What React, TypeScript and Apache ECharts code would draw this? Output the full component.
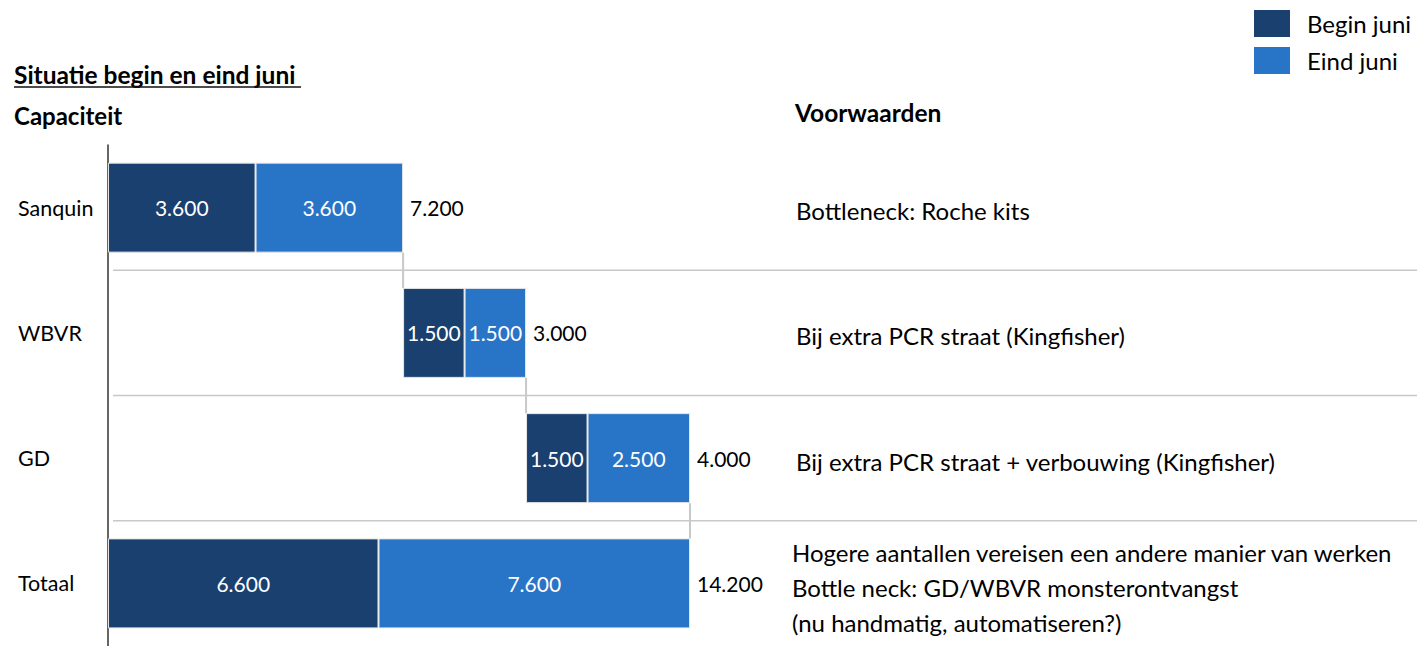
import React, { useEffect, useRef } from "react";
import * as echarts from "echarts";

const categories = ["Sanquin", "WBVR", "GD", "Totaal"];
const beginJuni = [3600, 1500, 1500, 6600];
const eindJuni = [3600, 1500, 2500, 7600];
const offsets = [0, 7200, 10200, 0];
const conditions = [
  ["Bottleneck: Roche kits"],
  ["Bij extra PCR straat (Kingfisher)"],
  ["Bij extra PCR straat + verbouwing (Kingfisher)"],
  [
    "Hogere aantallen vereisen een andere manier van werken",
    "Bottle neck: GD/WBVR monsterontvangst",
    "(nu handmatig, automatiseren?)",
  ],
];

const DARK = "#1A406F";
const LIGHT = "#2874C7";
const FONT = "Lato, 'Noto Sans', sans-serif";

const fmt = (v: number) => String(v).replace(/\B(?=(\d{3})+(?!\d))/g, ".");

export default function App() {
  const ref = useRef<HTMLDivElement>(null);
  useEffect(() => {
    document.body.style.margin = "0";
    const chart = echarts.init(ref.current!, null, { renderer: "svg" });
    const totals = beginJuni.map((b, i) => b + eindJuni[i]);
    const ends = offsets.map((o, i) => o + totals[i]);
    const gridLeft = 108;
    const gridWidth = 1417 - gridLeft;
    const endPx = 690 - gridLeft;
    const xMax = (Math.max(...ends) * gridWidth) / endPx;

    const option: any = {
      animation: false,
      textStyle: { fontFamily: FONT },
      legend: {
        data: ["Begin juni", "Eind juni"],
        orient: "vertical",
        left: 1254,
        top: 10,
        padding: 0,
        itemWidth: 36,
        itemHeight: 27,
        itemGap: 10,
        icon: "rect",
        itemStyle: { borderWidth: 0 },
        textStyle: { fontSize: 24, color: "#000", fontFamily: FONT, padding: [0, 0, 0, 12] },
      },
      grid: { left: gridLeft, width: gridWidth, top: 145, height: 504 },
      xAxis: { type: "value", min: 0, max: xMax, show: false },
      yAxis: {
        type: "category",
        data: categories,
        inverse: true,
        axisLine: { show: true, lineStyle: { color: "#333", width: 1.5 } },
        axisTick: { show: false },
        axisLabel: { align: "left", margin: 90, fontSize: 21.5, color: "#000", fontFamily: FONT },
        splitLine: { show: false },
      },
      series: [
        {
          name: "separators",
          type: "custom",
          silent: true,
          data: [1, 2, 3].map((i) => [i]),
          renderItem: (params: any, api: any) => {
            const i = api.value(0);
            const a = api.coord([0, categories[i - 1]]);
            const b = api.coord([0, categories[i]]);
            const y = (a[1] + b[1]) / 2;
            return {
              type: "line",
              shape: { x1: 113, y1: y, x2: 1417, y2: y },
              style: { stroke: "#c8c8c8", lineWidth: 1.5 },
            };
          },
        },
        {
          name: "offset",
          type: "bar",
          stack: "s",
          barWidth: 90,
          itemStyle: { color: "transparent" },
          data: offsets,
          silent: true,
        },
        {
          name: "Begin juni",
          type: "bar",
          stack: "s",
          barWidth: 90,
          itemStyle: { color: DARK, borderColor: "#e6e6e6", borderWidth: 1 },
          label: { show: true, position: "inside", color: "#fff", fontSize: 21, fontFamily: FONT, formatter: (p: any) => fmt(p.value) },
          data: beginJuni,
        },
        {
          name: "Eind juni",
          type: "bar",
          stack: "s",
          barWidth: 90,
          itemStyle: { color: LIGHT, borderColor: "#e6e6e6", borderWidth: 1 },
          label: { show: true, position: "inside", color: "#fff", fontSize: 21, fontFamily: FONT, formatter: (p: any) => fmt(p.value) },
          data: eindJuni,
        },
        {
          name: "totals",
          type: "custom",
          data: ends.map((e, i) => [e, i, totals[i]]),
          renderItem: (params: any, api: any) => {
            const p = api.coord([api.value(0), categories[api.value(1)]]);
            return {
              type: "text",
              x: p[0] + 7,
              y: p[1],
              style: { text: fmt(api.value(2)), fontSize: 21, fill: "#000", fontFamily: FONT, textVerticalAlign: "middle" },
            };
          },
        },
        {
          name: "connectors",
          type: "custom",
          data: ends.slice(0, -1).map((e, i) => [e, i]),
          renderItem: (params: any, api: any) => {
            const e = api.value(0);
            const i = api.value(1);
            const p1 = api.coord([e, categories[i]]);
            const p2 = api.coord([e, categories[i + 1]]);
            return {
              type: "line",
              shape: { x1: p1[0], y1: p1[1] + 45, x2: p2[0], y2: p2[1] - 45 },
              style: { stroke: "#c8c8c8", lineWidth: 2 },
            };
          },
        },
        {
          name: "conditions",
          type: "custom",
          data: conditions.map((c, i) => [i]),
          renderItem: (params: any, api: any) => {
            const i = api.value(0);
            const lines = conditions[i];
            const c = api.coord([0, categories[i]]);
            const gap = 35;
            const y0 = c[1] + (lines.length > 1 ? 4 : 3) - ((lines.length - 1) * gap) / 2;
            return {
              type: "group",
              children: lines.map((t, k) => ({
                type: "text",
                x: lines.length > 1 ? 792 : 796,
                y: y0 + k * gap,
                style: { text: t, fontSize: 24, fill: "#000", fontFamily: FONT, textVerticalAlign: "middle" },
              })),
            };
          },
        },
      ],
      graphic: [
        { type: "text", x: 14, y: 74, style: { text: "Situatie begin en eind juni", fontSize: 24.5, fontWeight: "bold", fill: "#000", fontFamily: FONT, textVerticalAlign: "middle" } },
        { type: "line", shape: { x1: 14, y1: 87, x2: 301, y2: 87 }, style: { stroke: "#111", lineWidth: 1.5 } },
        { type: "text", x: 14, y: 115, style: { text: "Capaciteit", fontSize: 24, fontWeight: "bold", fill: "#000", fontFamily: FONT, textVerticalAlign: "middle" } },
        { type: "text", x: 795, y: 112, style: { text: "Voorwaarden", fontSize: 24.5, fontWeight: "bold", fill: "#000", fontFamily: FONT, textVerticalAlign: "middle" } },
      ],
    };
    chart.setOption(option);
    return () => chart.dispose();
  }, []);
  return <div ref={ref} style={{ width: 1417, height: 646 }} />;
}
